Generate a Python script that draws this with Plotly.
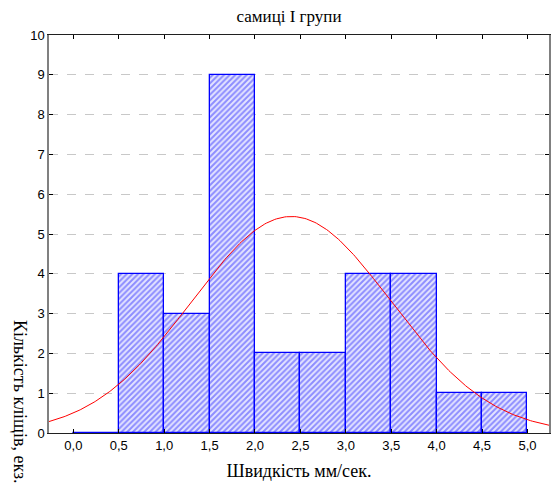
import numpy as np
import plotly.graph_objects as go

# Histogram bins (speed, mm/s) and counts
bin_edges = [0.0, 0.5, 1.0, 1.5, 2.0, 2.5, 3.0, 3.5, 4.0, 4.5, 5.0]
counts = [0, 4, 3, 9, 2, 2, 4, 4, 1, 1]

# Fitted normal curve parameters
fit_mean = 2.40
fit_sd = 1.10

x_ticks = [0.0, 0.5, 1.0, 1.5, 2.0, 2.5, 3.0, 3.5, 4.0, 4.5, 5.0]
y_ticks = [0, 1, 2, 3, 4, 5, 6, 7, 8, 9, 10]

title_text = "самиці I групи"
x_title = "Швидкість мм/сек."
y_title = "Кількість кліщів, екз."

edges = np.array(bin_edges)
centers = (edges[:-1] + edges[1:]) / 2
width = edges[1] - edges[0]
n_total = sum(counts)

x_range = [-0.268, 5.237]
xs = np.linspace(x_range[0], x_range[1], 300)
curve = n_total * width * np.exp(-0.5 * ((xs - fit_mean) / fit_sd) ** 2) / (fit_sd * np.sqrt(2 * np.pi))

blue = "#0000ff"
serif = "Liberation Serif, Times New Roman, serif"
sans = "Liberation Sans, Arial, sans-serif"

fig = go.Figure()

fig.add_trace(go.Bar(
    x=centers, y=counts, width=width,
    marker=dict(
        color="#b8b8ff",
        line=dict(color=blue, width=1.3),
        pattern=dict(shape="/", fgcolor="#3434ff", bgcolor="#e4e4ff", size=4, solidity=0.5),
    ),
    showlegend=False,
))

# Empty bins are drawn as a flat outline on the baseline
for c, n in zip(centers, counts):
    if n == 0:
        fig.add_trace(go.Scatter(
            x=[c - width / 2, c + width / 2], y=[0, 0], mode="lines",
            line=dict(color=blue, width=1.5), showlegend=False, hoverinfo="skip",
        ))

fig.add_trace(go.Scatter(
    x=xs, y=curve, mode="lines",
    line=dict(color="#ff0000", width=1),
    showlegend=False,
))

fig.update_layout(
    width=551, height=489,
    margin=dict(l=49, r=0, t=35, b=56),
    paper_bgcolor="white", plot_bgcolor="white",
    bargap=0,
    separators=", ",
    title=dict(text=title_text, x=(290 - 49) / 502, xref="paper", xanchor="center",
               y=1 - 16 / 489, yanchor="middle",
               font=dict(family=serif, size=17, color="black")),
    annotations=[dict(
        text=y_title, textangle=90, xref="paper", yref="paper",
        x=(20 - 49) / 502, y=(433 - 402) / 398, xanchor="center", yanchor="middle",
        showarrow=False, font=dict(family=serif, size=18, color="black"),
    )],
)

fig.update_xaxes(
    range=x_range, tickvals=x_ticks, tickformat=".1f",
    showgrid=False, zeroline=False,
    showline=True, linecolor="#202020", linewidth=1, mirror="ticks",
    ticks="inside", ticklen=4, tickcolor="black",
    tickfont=dict(family=sans, size=13, color="black"),
    title=dict(text=x_title, font=dict(family=serif, size=18, color="black"), standoff=12),
)
fig.update_yaxes(
    range=[0, 10], tickvals=y_ticks,
    showgrid=True, gridcolor="#c8c8c8", griddash="dash", gridwidth=1,
    zeroline=False,
    showline=True, linecolor="#808080", linewidth=1.5, mirror="ticks",
    ticks="inside", ticklen=4, tickcolor="black",
    tickfont=dict(family=sans, size=13, color="black"),
)

fig.write_html("out.html")
